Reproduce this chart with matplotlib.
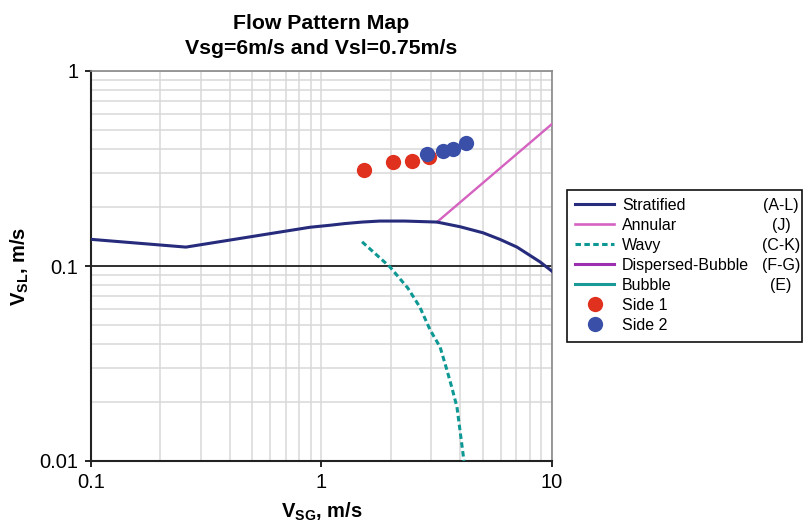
import matplotlib
matplotlib.use('Agg')
import matplotlib.pyplot as plt
from matplotlib.patches import Rectangle
from matplotlib.ticker import LogLocator, NullFormatter, FixedLocator, FixedFormatter

plt.rcParams['font.family'] = ['Liberation Sans', 'DejaVu Sans']
plt.rcParams['mathtext.fontset'] = 'custom'
plt.rcParams['mathtext.rm'] = 'Liberation Sans'
plt.rcParams['mathtext.bf'] = 'Liberation Sans:bold'

# Stratified boundary (A-L)
strat_vsg = [0.1, 0.258, 0.891, 1.1, 1.26, 1.5, 1.79, 2.3, 2.7, 3.17, 3.99, 5.02, 5.94, 7.05, 8.87, 10.0]
strat_vsl = [0.137, 0.125, 0.158, 0.162, 0.165, 0.168, 0.170, 0.170, 0.169, 0.168, 0.159, 0.148, 0.137, 0.125, 0.105, 0.094]

# Annular boundary (J)
annular_vsg = [3.17, 10.0]
annular_vsl = [0.168, 0.535]

# Wavy boundary (C-K)
wavy_vsg = [1.50, 1.98, 2.37, 2.67, 2.96, 3.27, 3.50, 3.67, 3.87, 4.15]
wavy_vsl = [0.133, 0.099, 0.077, 0.0616, 0.047, 0.0384, 0.0293, 0.024, 0.0189, 0.0100]

# measured points
side1_vsg = [1.53, 2.04, 2.47, 2.93]
side1_vsl = [0.31, 0.341, 0.346, 0.362]
side2_vsg = [2.87, 3.37, 3.72, 4.24]
side2_vsl = [0.375, 0.389, 0.398, 0.427]

codes = ['(A-L)', '(J)', '(C-K)', '(F-G)', '(E)']

fig = plt.figure(figsize=(8.04, 5.27), dpi=100)
ax = fig.add_axes([91/804, 1-461/527, (552-91)/804, (461-71)/527])

ax.set_xscale('log')
ax.set_yscale('log')
ax.set_xlim(0.1, 10)
ax.set_ylim(0.01, 1)

# grid
ax.xaxis.set_minor_locator(LogLocator(base=10, subs=range(2, 10)))
ax.yaxis.set_minor_locator(LogLocator(base=10, subs=range(2, 10)))
ax.xaxis.set_minor_formatter(NullFormatter())
ax.yaxis.set_minor_formatter(NullFormatter())
ax.grid(True, which='both', color='#d9d9d9', lw=1.1, zorder=0)
ax.set_axisbelow(True)
ax.axhline(0.1, color='#111111', lw=1.2, zorder=1)

ax.xaxis.set_major_locator(FixedLocator([0.1, 1, 10]))
ax.xaxis.set_major_formatter(FixedFormatter(['0.1', '1', '10']))
ax.yaxis.set_major_locator(FixedLocator([0.01, 0.1, 1]))
ax.yaxis.set_major_formatter(FixedFormatter(['0.01', '0.1', '1']))
ax.tick_params(which='major', length=4, width=1.2, labelsize=14.5, direction='out', pad=5)
ax.tick_params(which='minor', length=0)

for s in ['top', 'right']:
    ax.spines[s].set_color('#888888')
    ax.spines[s].set_linewidth(1.2)
for s in ['left', 'bottom']:
    ax.spines[s].set_color('#222222')
    ax.spines[s].set_linewidth(1.5)

ax.plot(annular_vsg, annular_vsl, color='#d562c0', lw=1.7, zorder=3)
ax.plot(strat_vsg, strat_vsl, color='#262b7c', lw=2.2, zorder=4)
ax.plot(wavy_vsg, wavy_vsl, color='#0e9894', lw=2.2, dashes=(1.8, 1.1), zorder=4)
ax.plot(side1_vsg, side1_vsl, 'o', color='#e0301e', ms=11, mec='none', zorder=5)
ax.plot(side2_vsg, side2_vsl, 'o', color='#3a50a8', ms=11, mec='none', zorder=6)

# legend handles
h = [
    plt.Line2D([], [], color='#262b7c', lw=2.2),
    plt.Line2D([], [], color='#d562c0', lw=1.9),
    plt.Line2D([], [], color='#0e9894', lw=2.2, dashes=(1.8, 1.1)),
    plt.Line2D([], [], color='#9b2fb0', lw=2.2),
    plt.Line2D([], [], color='#1a9a96', lw=2.2),
    plt.Line2D([], [], ls='none', marker='o', color='#e0301e', ms=11, mec='none'),
    plt.Line2D([], [], ls='none', marker='o', color='#3a50a8', ms=11, mec='none'),
]
names = ['Stratified', 'Annular', 'Wavy', 'Dispersed-Bubble', 'Bubble', 'Side 1', 'Side 2']
leg = fig.legend(h, names, loc='upper left', bbox_to_anchor=(567/804, 1-190/527),
                 frameon=False, fontsize=11.5, handlelength=2.45, handletextpad=0.5,
                 labelspacing=0.31, borderaxespad=0, borderpad=0.5, numpoints=1)
fig.patches.append(Rectangle((567/804, 1-342/527), (802-567)/804, (342-190)/527,
                             transform=fig.transFigure, fill=False, ec='#111111', lw=1.2))

fig.canvas.draw()
r = fig.canvas.get_renderer()
for t, c in zip(leg.get_texts(), codes):
    bb = t.get_window_extent(r)
    fig.text(781/804, (bb.y0 + bb.y1) / 2 / fig.bbox.height, c, ha='center', va='center',
             fontsize=11.5)

ax.set_title('Flow Pattern Map\nVsg=6m/s and Vsl=0.75m/s', fontsize=15.3, fontweight='bold',
             linespacing=1.4, pad=12)
ax.set_xlabel(r'$\mathbf{V_{SG}}$, m/s', fontsize=14.5, fontweight='bold', labelpad=6)
ax.set_ylabel(r'$\mathbf{V_{SL}}$, m/s', fontsize=14.5, fontweight='bold', labelpad=6)

fig.savefig('out.png', dpi=100)
